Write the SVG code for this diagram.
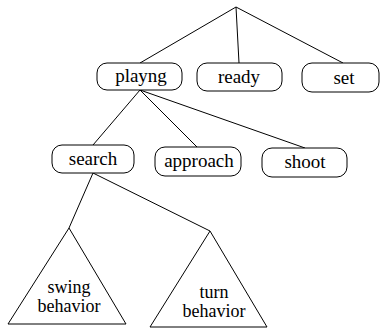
<svg xmlns="http://www.w3.org/2000/svg" width="380" height="329" viewBox="0 0 380 329">
<style>
.box{fill:#fff;stroke:#000;stroke-width:1}
.tri{fill:#fff;stroke:#000;stroke-width:1}
.edge{stroke:#000;stroke-width:1;fill:none}
.t{font-family:"Tinos","Liberation Serif","DejaVu Serif","Noto Serif",Times,serif;font-size:19px;fill:#000;text-anchor:middle}
.tt{font-size:18px}
</style>
<rect width="380" height="329" fill="#fff"/>
<g id="connectors">
<line class="edge" x1="236" y1="7" x2="140" y2="63"/>
<line class="edge" x1="236" y1="7" x2="239" y2="63"/>
<line class="edge" x1="236" y1="7" x2="343" y2="63"/>
<line class="edge" x1="140" y1="90" x2="93" y2="145"/>
<line class="edge" x1="140" y1="90" x2="197" y2="147"/>
<line class="edge" x1="140" y1="90" x2="305" y2="148"/>
<line class="edge" x1="93" y1="173" x2="69" y2="228"/>
<line class="edge" x1="93" y1="173" x2="210" y2="231"/>
</g>
<g id="playng"><rect class="box" x="97" y="63" width="85" height="27" rx="10"/><text class="t" x="141" y="82">playng</text></g>
<g id="ready"><rect class="box" x="197" y="63" width="85" height="28" rx="10"/><text class="t" x="239" y="83">ready</text></g>
<g id="set"><rect class="box" x="302" y="63" width="77" height="29" rx="10"/><text class="t" x="344" y="84">set</text></g>
<g id="search"><rect class="box" x="52" y="145" width="82" height="28" rx="10"/><text class="t" x="93" y="165">search</text></g>
<g id="approach"><rect class="box" x="155" y="147" width="86" height="29" rx="10"/><text class="t" x="199" y="167">approach</text></g>
<g id="shoot"><rect class="box" x="262" y="148" width="85" height="29" rx="10"/><text class="t" x="305" y="168">shoot</text></g>
<g id="swing-behavior"><polygon class="tri" points="69,228 8,324 126,324"/><text class="t tt" x="69" y="293">swing</text><text class="t tt" x="69" y="312">behavior</text></g>
<g id="turn-behavior"><polygon class="tri" points="210,231 150,327 267,327"/><text class="t tt" x="214" y="298">turn</text><text class="t tt" x="214" y="317">behavior</text></g>
</svg>
